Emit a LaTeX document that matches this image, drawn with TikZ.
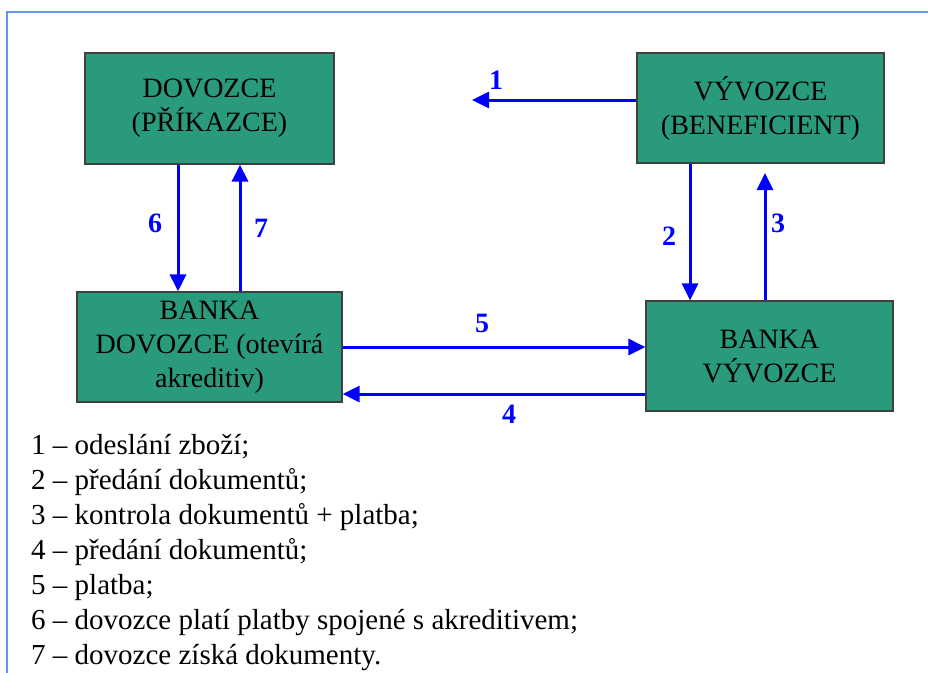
\documentclass[tikz,border=0pt]{standalone}
\usepackage{fontspec}
\setmainfont{Liberation Serif}
\usetikzlibrary{arrows.meta}

\definecolor{boxgreen}{RGB}{42,154,124}
\definecolor{boxedge}{RGB}{64,64,64}
\definecolor{framecol}{RGB}{100,149,230}

\tikzset{
  party/.style={rectangle, draw=boxedge, line width=1.2pt, fill=boxgreen, align=center,
    inner sep=0pt, font=\fontsize{28}{34}\selectfont},
  flow/.style={draw=blue, line width=3pt, -{Triangle[length=17pt,width=16pt]}},
  num/.style={text=blue, inner sep=0pt, font=\fontsize{28}{34}\selectfont\bfseries},
  item/.style={anchor=base west, inner sep=0pt, font=\fontsize{29}{35}\selectfont}
}

\begin{document}
\begin{tikzpicture}[x=1pt,y=-1pt]
    \useasboundingbox (0,0) rectangle (928,672);
    \clip (0,0) rectangle (928,672);

    % Frame
    \draw[framecol, line width=2pt] (7,12) rectangle (960,700);

    % Parties
    \node (dov) [party, minimum width=249pt, minimum height=111pt] at (209.5,108.5) {DOVOZCE\\(PŘÍKAZCE)};
    \node (vyv) [party, minimum width=247pt, minimum height=110pt] at (760.5,108) {VÝVOZCE\\(BENEFICIENT)};
    \node (bdov) [party, minimum width=265pt, minimum height=110pt] at (209.5,347) {BANKA\\DOVOZCE (otevírá\\akreditiv)};
    \node (bvyv) [party, minimum width=247pt, minimum height=110pt] at (769.5,356) {BANKA\\VÝVOZCE};

    % Free ends
    \coordinate (end1) at (472,100);
    \coordinate (end3) at (765,173);

    % Flows
    \draw [flow] (vyv.west |- end1) -- (end1);
    \draw [flow] ([xshift=-70.5pt]vyv.south) -- ([xshift=-70.5pt]vyv.south |- bvyv.north);
    \draw [flow] (bvyv.north -| end3) -- (end3);
    \draw [flow] ([yshift=-38pt]bvyv.west) -- ([yshift=-38pt]bvyv.west -| bdov.east);
    \draw [flow] (bdov.east) -- (bvyv.west |- bdov.east);
    \draw [flow] ([xshift=-31.5pt]dov.south) -- ([xshift=-31.5pt]bdov.north);
    \draw [flow] ([xshift=30.5pt]bdov.north) -- ([xshift=30.5pt]dov.south);

    % Step numbers
    \node (n1) [num] at (496,80) {1};
    \node (n2) [num] at (669,236) {2};
    \node (n3) [num] at (778,223) {3};
    \node (n4) [num] at (509,414) {4};
    \node (n5) [num] at (482,323) {5};
    \node (n6) [num] at (155,223) {6};
    \node (n7) [num] at (261,228) {7};

    % Legend
    \foreach \i/\t in {1/{odeslání zboží;}, 2/{předání dokumentů;}, 3/{kontrola dokumentů + platba;},
        4/{předání dokumentů;}, 5/{platba;}, 6/{dovozce platí platby spojené s akreditivem;},
        7/{dovozce získá dokumenty.}}
        \node (item\i) [item] at (31,{419+35*\i}) {\i\ – \t};
\end{tikzpicture}
\end{document}
